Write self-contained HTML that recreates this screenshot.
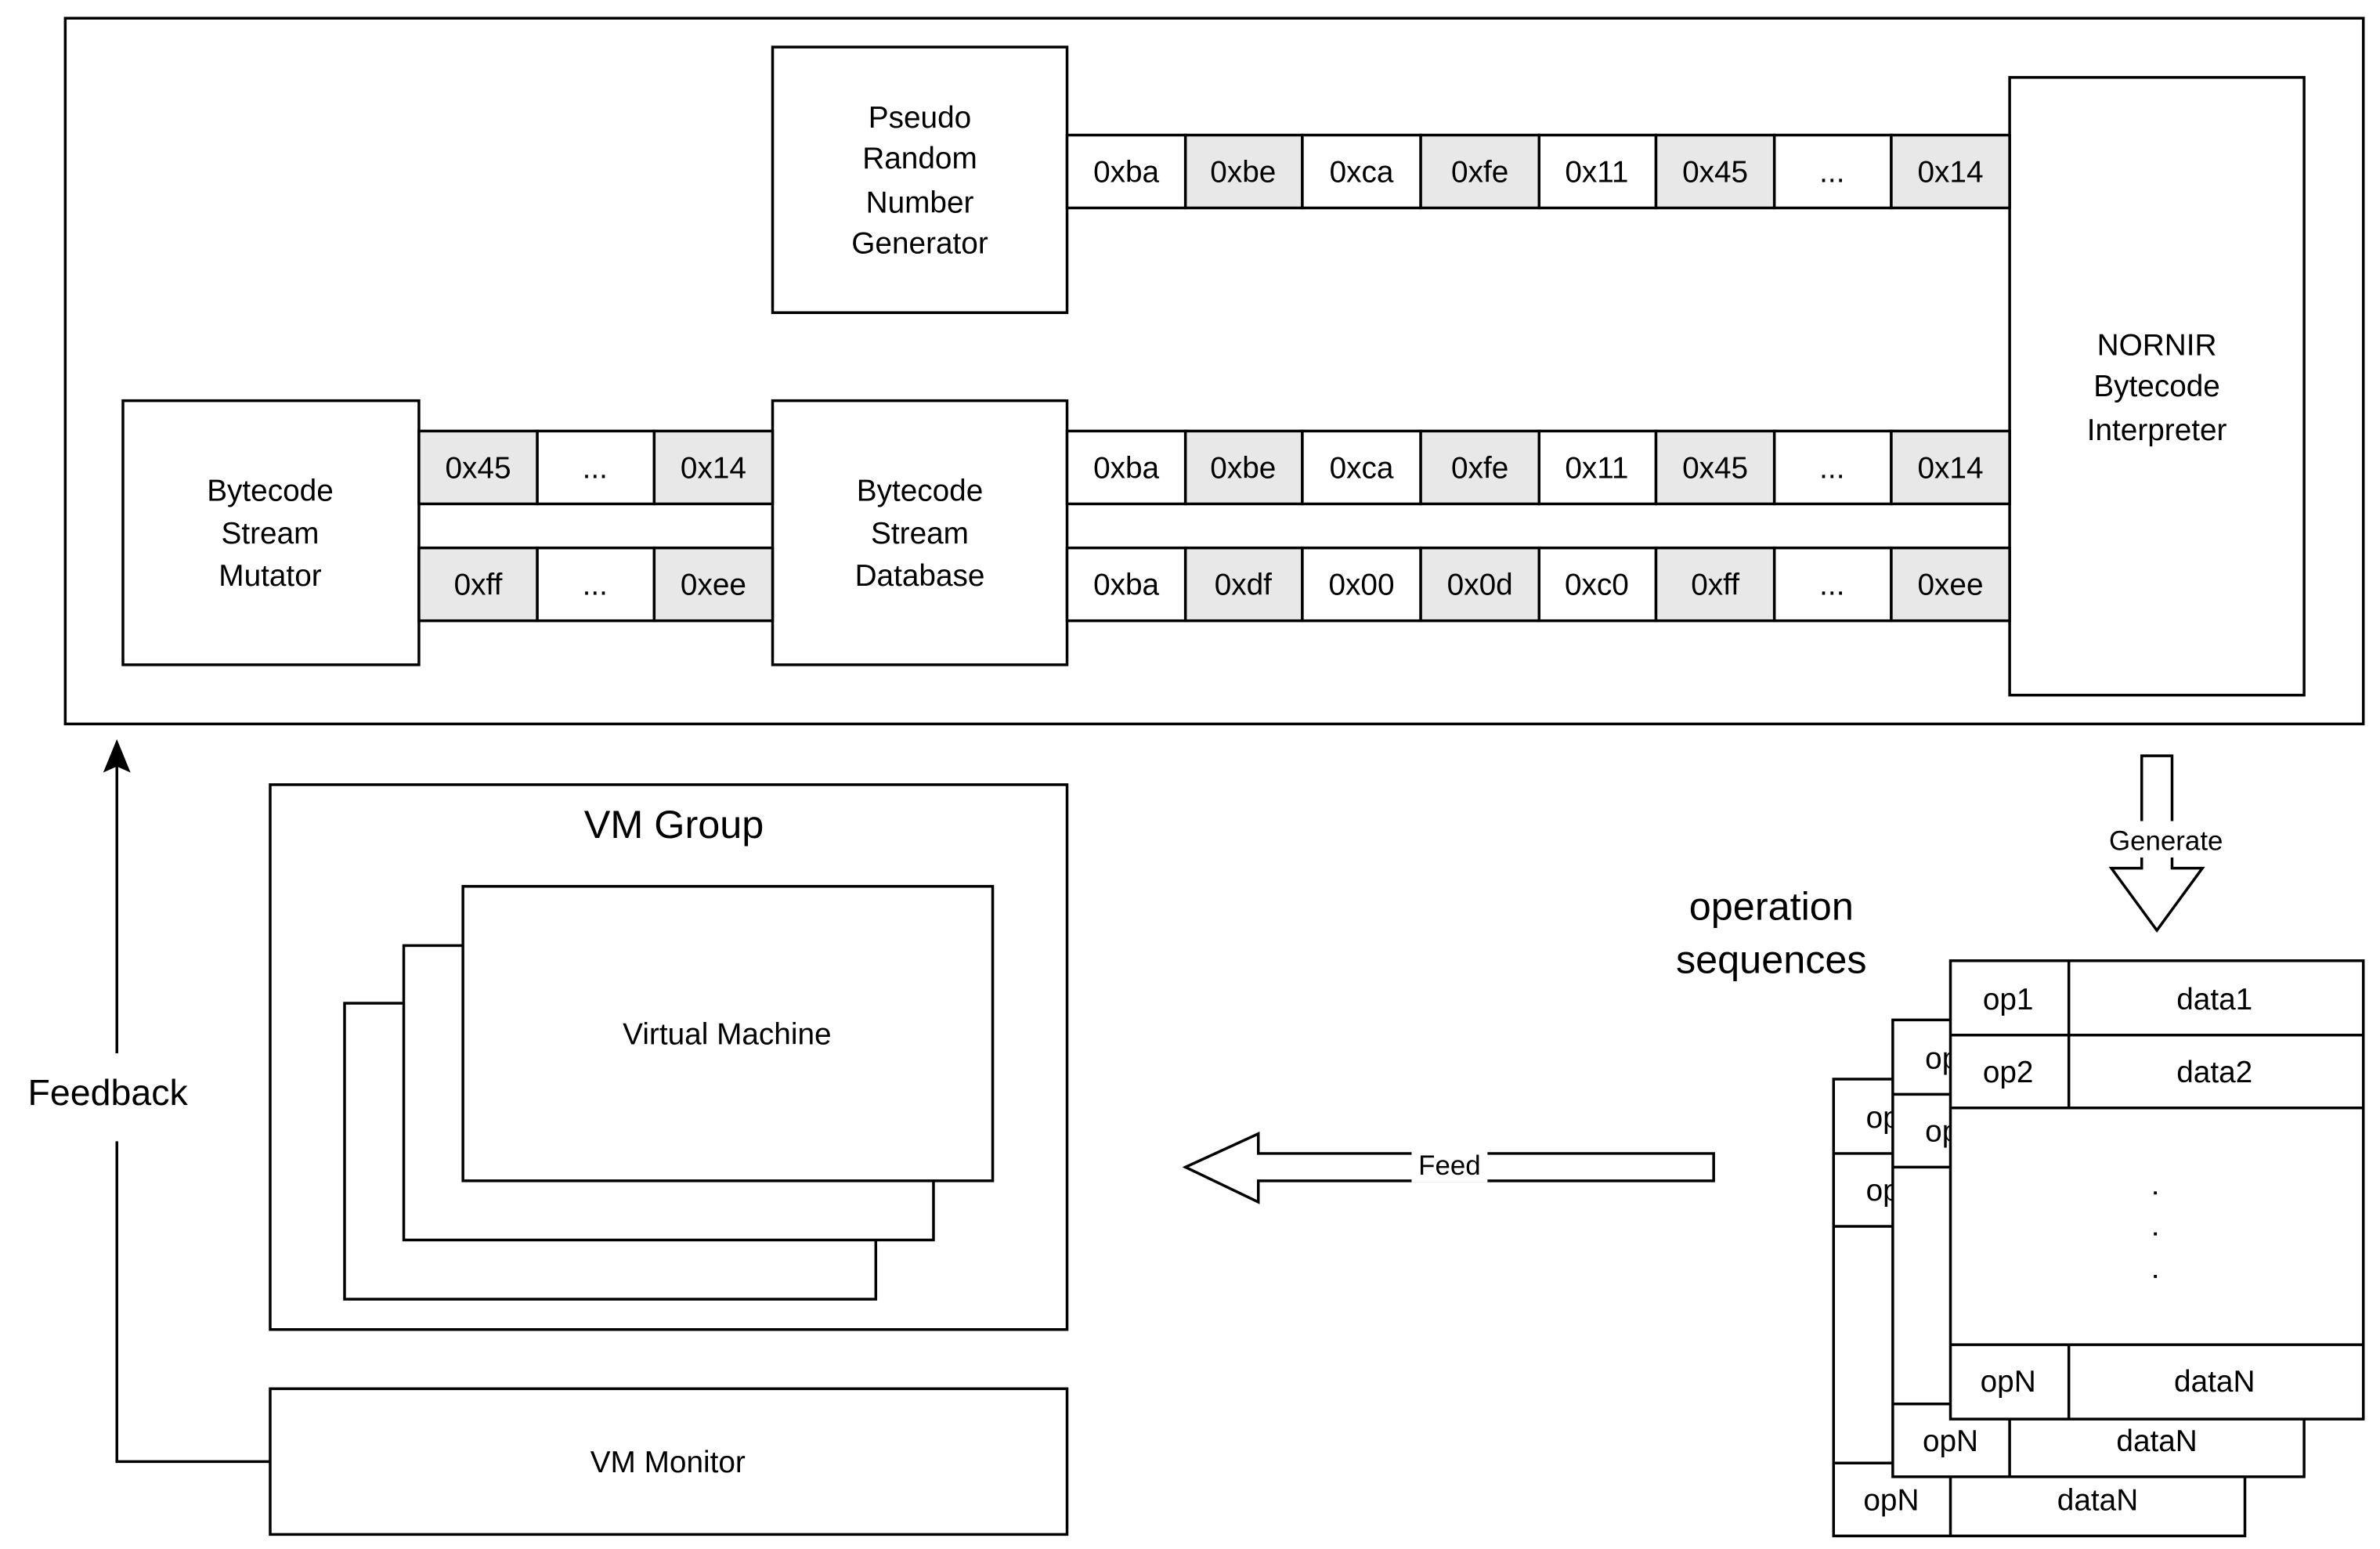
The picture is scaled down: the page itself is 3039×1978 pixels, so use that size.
<!DOCTYPE html>
<html><head><meta charset="utf-8"><style>html,body{margin:0;padding:0;background:#fff}svg{display:block}text{font-family:"Liberation Sans",Arial,sans-serif}</style></head>
<body>
<svg width="3039" height="1978" viewBox="0 0 1568 1020.6" preserveAspectRatio="none" xmlns="http://www.w3.org/2000/svg" font-family="'Liberation Sans', sans-serif" text-anchor="middle">
<rect x="0" y="0" width="1568" height="1021" fill="#fff"/>
<g fill="none" stroke="#000" stroke-width="1.8">
<rect x="43" y="12" width="1514" height="465"/>
</g>
<g stroke="#000" stroke-width="1.8" fill="#fff">
<rect x="509" y="31" width="194" height="175"/>
<rect x="1324" y="51" width="194" height="407"/>
<rect x="81" y="264" width="195" height="174"/>
<rect x="509" y="264" width="194" height="174"/>
</g>
<g font-size="20" fill="#000">
<text x="606" y="84">Pseudo</text><text x="606" y="111">Random</text><text x="606" y="140">Number</text><text x="606" y="167">Generator</text>
<text x="1421" y="234">NORNIR</text><text x="1421" y="261">Bytecode</text><text x="1421" y="290">Interpreter</text>
<text x="178" y="330">Bytecode</text><text x="178" y="358">Stream</text><text x="178" y="386">Mutator</text>
<text x="606" y="330">Bytecode</text><text x="606" y="358">Stream</text><text x="606" y="386">Database</text>
</g>
<g stroke="#000" stroke-width="1.8" font-size="20">
<rect x="703" y="89" width="78" height="48" fill="#fff"/><rect x="781" y="89" width="77" height="48" fill="#e8e8e8"/><rect x="858" y="89" width="78" height="48" fill="#fff"/><rect x="936" y="89" width="78" height="48" fill="#e8e8e8"/><rect x="1014" y="89" width="77" height="48" fill="#fff"/><rect x="1091" y="89" width="78" height="48" fill="#e8e8e8"/><rect x="1169" y="89" width="77" height="48" fill="#fff"/><rect x="1246" y="89" width="78" height="48" fill="#e8e8e8"/>
<rect x="703" y="284" width="78" height="48" fill="#fff"/><rect x="781" y="284" width="77" height="48" fill="#e8e8e8"/><rect x="858" y="284" width="78" height="48" fill="#fff"/><rect x="936" y="284" width="78" height="48" fill="#e8e8e8"/><rect x="1014" y="284" width="77" height="48" fill="#fff"/><rect x="1091" y="284" width="78" height="48" fill="#e8e8e8"/><rect x="1169" y="284" width="77" height="48" fill="#fff"/><rect x="1246" y="284" width="78" height="48" fill="#e8e8e8"/>
<rect x="703" y="361" width="78" height="48" fill="#fff"/><rect x="781" y="361" width="77" height="48" fill="#e8e8e8"/><rect x="858" y="361" width="78" height="48" fill="#fff"/><rect x="936" y="361" width="78" height="48" fill="#e8e8e8"/><rect x="1014" y="361" width="77" height="48" fill="#fff"/><rect x="1091" y="361" width="78" height="48" fill="#e8e8e8"/><rect x="1169" y="361" width="77" height="48" fill="#fff"/><rect x="1246" y="361" width="78" height="48" fill="#e8e8e8"/>
<rect x="276" y="284" width="78" height="48" fill="#e8e8e8"/><rect x="354" y="284" width="77" height="48" fill="#fff"/><rect x="431" y="284" width="78" height="48" fill="#e8e8e8"/>
<rect x="276" y="361" width="78" height="48" fill="#e8e8e8"/><rect x="354" y="361" width="77" height="48" fill="#fff"/><rect x="431" y="361" width="78" height="48" fill="#e8e8e8"/>
</g>
<g font-size="20" fill="#000">
<text x="742" y="120">0xba</text><text x="819" y="120">0xbe</text><text x="897" y="120">0xca</text><text x="975" y="120">0xfe</text><text x="1052" y="120">0x11</text><text x="1130" y="120">0x45</text><text x="1207" y="120">...</text><text x="1285" y="120">0x14</text>
<text x="742" y="315">0xba</text><text x="819" y="315">0xbe</text><text x="897" y="315">0xca</text><text x="975" y="315">0xfe</text><text x="1052" y="315">0x11</text><text x="1130" y="315">0x45</text><text x="1207" y="315">...</text><text x="1285" y="315">0x14</text>
<text x="742" y="392">0xba</text><text x="819" y="392">0xdf</text><text x="897" y="392">0x00</text><text x="975" y="392">0x0d</text><text x="1052" y="392">0xc0</text><text x="1130" y="392">0xff</text><text x="1207" y="392">...</text><text x="1285" y="392">0xee</text>
<text x="315" y="315">0x45</text><text x="392" y="315">...</text><text x="470" y="315">0x14</text>
<text x="315" y="392">0xff</text><text x="392" y="392">...</text><text x="470" y="392">0xee</text>
</g>
<g stroke="#000" stroke-width="1.8" fill="none">
<polyline points="178,963 77,963 77,752"/>
<line x1="77" y1="694" x2="77" y2="502"/>
</g>
<polygon points="77,487 86,509 77,505 68,509" fill="#000"/>
<text x="71" y="728" font-size="24">Feedback</text>
<g stroke="#000" stroke-width="1.8" fill="#fff">
<rect x="178" y="517" width="525" height="359"/>
<rect x="227" y="661" width="350" height="195"/>
<rect x="266" y="623" width="349" height="194"/>
<rect x="305" y="584" width="349" height="194"/>
<rect x="178" y="915" width="525" height="96"/>
</g>
<text x="444" y="552" font-size="26">VM Group</text>
<text x="479" y="688" font-size="20">Virtual Machine</text>
<text x="440" y="970" font-size="20">VM Monitor</text>
<polygon points="781,769 829,747 829,760 1129,760 1129,778 829,778 829,792" fill="#fff" stroke="#000" stroke-width="1.8"/>
<rect x="930" y="755" width="50" height="24" fill="#fff"/>
<text x="955" y="774" font-size="18">Feed</text>
<polygon points="1411,498 1431,498 1431,572 1451,572 1421,613 1391,572 1411,572" fill="#fff" stroke="#000" stroke-width="1.8"/>
<rect x="1382" y="541" width="90" height="24" fill="#fff"/>
<text x="1427" y="560" font-size="18">Generate</text>
<text x="1167" y="606" font-size="26">operation</text>
<text x="1167" y="641" font-size="26">sequences</text>
<g stroke="#000" stroke-width="1.8" fill="#fff" font-size="20">
<rect x="1208" y="711" width="271" height="301"/>
<line x1="1208" y1="760" x2="1247" y2="760"/><line x1="1208" y1="808" x2="1247" y2="808"/><line x1="1208" y1="964" x2="1479" y2="964"/><line x1="1285" y1="964" x2="1285" y2="1012"/>
</g>
<g font-size="20" fill="#000"><text x="1246" y="743">op1</text><text x="1246" y="791">op2</text><text x="1246" y="995">opN</text><text x="1382" y="995">dataN</text></g>
<g stroke="#000" stroke-width="1.8" fill="#fff">
<rect x="1247" y="672" width="271" height="301"/>
<line x1="1247" y1="721" x2="1285" y2="721"/><line x1="1247" y1="769" x2="1285" y2="769"/><line x1="1247" y1="925" x2="1518" y2="925"/><line x1="1324" y1="925" x2="1324" y2="973"/>
</g>
<g font-size="20" fill="#000"><text x="1285" y="704">op1</text><text x="1285" y="752">op2</text><text x="1285" y="956">opN</text><text x="1421" y="956">dataN</text></g>
<g stroke="#000" stroke-width="1.8" fill="#fff">
<rect x="1285" y="633" width="272" height="302"/>
<line x1="1285" y1="682" x2="1557" y2="682"/><line x1="1285" y1="730" x2="1557" y2="730"/><line x1="1285" y1="886" x2="1557" y2="886"/>
<line x1="1363" y1="633" x2="1363" y2="730"/><line x1="1363" y1="886" x2="1363" y2="935"/>
</g>
<g font-size="20" fill="#000"><text x="1323" y="665">op1</text><text x="1459" y="665">data1</text><text x="1323" y="713">op2</text><text x="1459" y="713">data2</text><text x="1323" y="917">opN</text><text x="1459" y="917">dataN</text></g>
<g fill="#000"><rect x="1419" y="785" width="2" height="2"/><rect x="1419" y="812" width="2" height="2"/><rect x="1419" y="840" width="2" height="2"/></g>
</svg>
</body></html>
